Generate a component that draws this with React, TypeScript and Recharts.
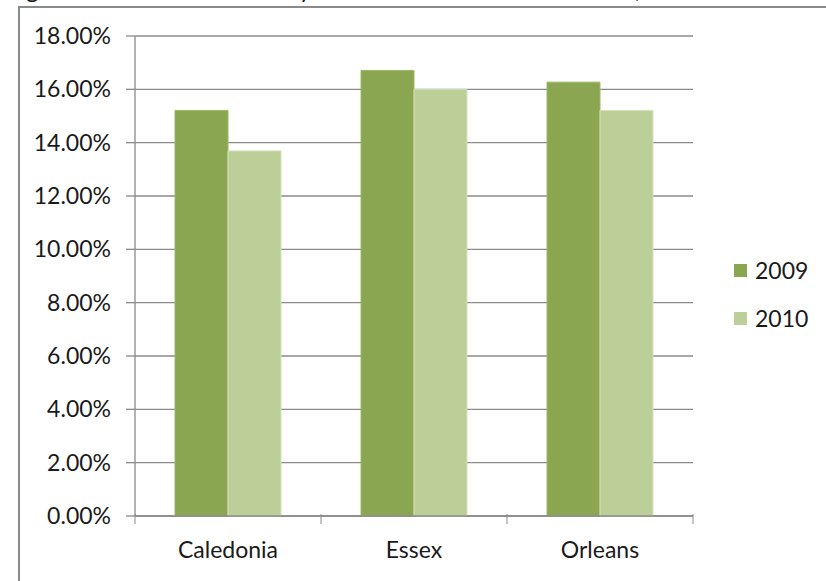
import React from 'react';
import { BarChart, Bar, XAxis, YAxis, CartesianGrid, Legend } from 'recharts';

const counties = ['Caledonia', 'Essex', 'Orleans'];
const rate2009 = [15.21, 16.71, 16.27];
const rate2010 = [13.69, 16.0, 15.21];
const yTicks = [0, 2, 4, 6, 8, 10, 12, 14, 16, 18];

const data = counties.map((name, i) => ({ name, y2009: rate2009[i], y2010: rate2010[i] }));

const GRAY = '#8a8a8a';
const FONT = 'Lato, "Open Sans", sans-serif';
const FS = 23;

// bits of the cut-off caption line above the chart frame
const captionBits = [
  { ch: 'g', left: 26 },
  { ch: 'y', left: 299 },
  { ch: ',', left: 635 },
];

const CategoryTick = (props: any) => {
  const { x, y, payload, index } = props;
  const half = payload && payload.offset ? payload.offset : 93;
  const axisY = y - 10;
  return (
    <g>
      <line x1={x - half} y1={axisY} x2={x - half} y2={axisY + 10} stroke={GRAY} />
      {index === counties.length - 1 && (
        <line x1={x + half} y1={axisY} x2={x + half} y2={axisY + 10} stroke={GRAY} />
      )}
      <text x={x} y={y + 18} dy="0.71em" textAnchor="middle" fontSize={FS} fontFamily={FONT} fill="#1a1a1a">
        {payload.value}
      </text>
    </g>
  );
};

const LegendBox = (props: any) => {
  const items = props.payload || [];
  return (
    <div style={{ fontFamily: FONT, fontSize: FS, color: '#1a1a1a' }}>
      {items.map((it: any) => (
        <div key={it.value} style={{ display: 'flex', alignItems: 'center', height: 48 }}>
          <span style={{ display: 'inline-block', width: 13, height: 13, background: it.color, marginRight: 8 }} />
          <span>{it.value}</span>
        </div>
      ))}
    </div>
  );
};

export default function App() {
  return (
    <div style={{ position: 'absolute', left: 0, top: 0, width: 826, height: 581, background: '#fff', overflow: 'hidden' }}>
      {captionBits.map((b) => (
        <span
          key={b.left}
          style={{ position: 'absolute', left: b.left, top: -23, fontFamily: FONT, fontSize: 24, lineHeight: '24px', color: '#111' }}
        >
          {b.ch}
        </span>
      ))}
      <div style={{ position: 'absolute', left: 18, top: 6, width: 900, height: 700, borderLeft: `2px solid ${GRAY}`, borderTop: `2px solid ${GRAY}` }} />
      <div style={{ position: 'absolute', left: 0, top: 0 }}>
        <BarChart
          width={826}
          height={581}
          data={data}
          margin={{ top: 36, right: 133, left: 0, bottom: 0 }}
          barCategoryGap={40}
          barGap={0}
        >
          <CartesianGrid horizontal={true} vertical={false} stroke={GRAY} strokeWidth={1.3} />
          <XAxis
            dataKey="name"
            height={65}
            axisLine={{ stroke: GRAY, strokeWidth: 1.3 }}
            tickLine={false}
            tick={<CategoryTick />}
            interval={0}
          />
          <YAxis
            width={135}
            domain={[0, 18]}
            ticks={yTicks}
            tickFormatter={(v: number) => `${v.toFixed(2)}%`}
            axisLine={{ stroke: GRAY, strokeWidth: 1.3 }}
            tickLine={{ stroke: GRAY, strokeWidth: 1.3 }}
            tickSize={9}
            tickMargin={15}
            tick={{ fontSize: FS, fontFamily: FONT, fill: '#1a1a1a' }}
          />
          <Legend
            layout="vertical"
            align="center"
            verticalAlign="middle"
            content={<LegendBox />}
            wrapperStyle={{ left: 734, top: 246, width: 90 }}
          />
          <Bar dataKey="y2009" name="2009" fill="#8aa650" stroke="#9cb86a" strokeWidth={1} isAnimationActive={false} />
          <Bar dataKey="y2010" name="2010" fill="#bccf98" stroke="#d3e1bb" strokeWidth={1} isAnimationActive={false} />
        </BarChart>
      </div>
    </div>
  );
}
